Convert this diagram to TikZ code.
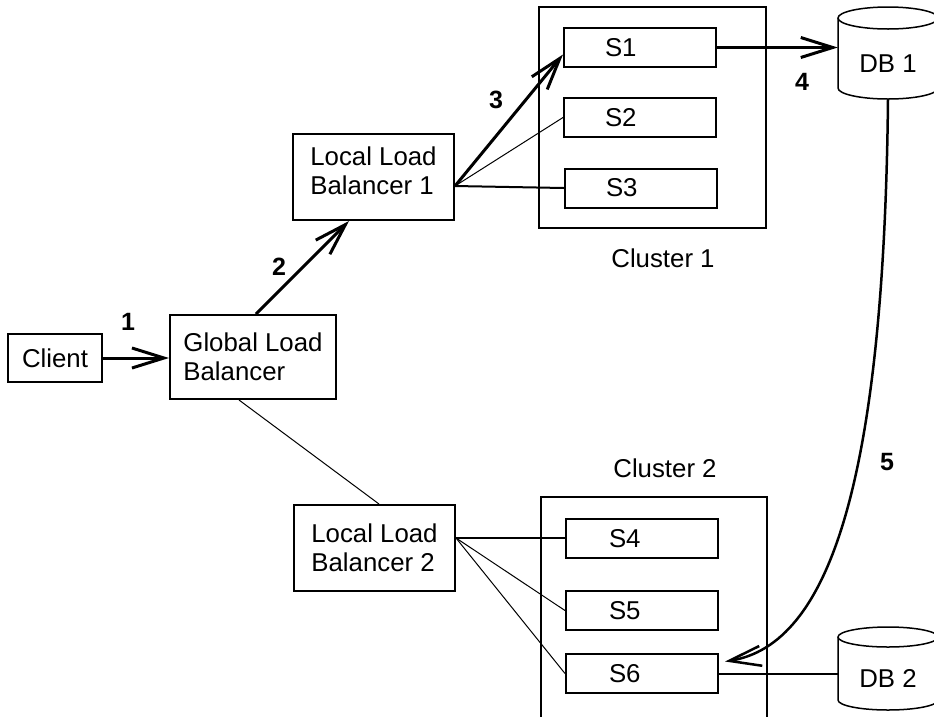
\documentclass[tikz,border=0pt]{standalone}
\usepackage{fontspec}
\setmainfont{Liberation Sans}
\usetikzlibrary{arrows.meta,calc}
\begin{document}
\begin{tikzpicture}[x=1pt,y=-1pt,
  box/.style={draw, line width=2pt, inner sep=0pt, font=\fontsize{25.8}{29}\selectfont, align=left},
  srv/.style={box, minimum width=152pt, minimum height=39pt},
  lbl/.style={font=\fontsize{25.8}{29}\selectfont},
  num/.style={font=\fontsize{25}{29}\selectfont\bfseries},
  barb/.style={-{Straight Barb[length=32pt,width=20pt]}},
  bold/.style={line width=3pt},
  mid/.style={line width=2pt},
  thin/.style={line width=1pt},
  dbline/.style={line width=1.5pt}]
\useasboundingbox (0,0) rectangle (934,716);
\clip (0,0) rectangle (934,716);
% boxes
\node[box, minimum width=94pt, minimum height=48pt] (client) at (55,358) {Client};
\node[box, minimum width=166pt, minimum height=84pt] (glb) at (253,357) {Global Load\\Balancer};
\node[box, minimum width=161pt, minimum height=86pt, align=center] (llb1) at (373.5,177) {\raisebox{28pt}{\begin{tabular}{@{}l@{}}Local Load\\[0pt]Balancer 1\end{tabular}}};
\node[box, minimum width=161pt, minimum height=86pt] (llb2) at (374.5,548) {Local Load\\Balancer 2};
\node[box, minimum width=227pt, minimum height=221pt] (c1) at (652.5,117.5) {};
\node[box, minimum width=226pt, minimum height=243pt] (c2) at (654,618.5) {};
\node[lbl] (c1l) at (663,258) {Cluster 1};
\node[lbl] (c2l) at (665,468) {Cluster 2};
% servers
\node[srv] (s1) at (640,47.5) {\makebox[70pt][l]{S1}};
\node[srv] (s2) at (640,117.5) {\makebox[70pt][l]{S2}};
\node[srv] (s3) at (641,188) {\makebox[70pt][l]{S3}};
\node[srv] (s4) at (642,538.5) {\makebox[66pt][l]{S4}};
\node[srv] (s5) at (642,610.5) {\makebox[66pt][l]{S5}};
\node[srv] (s6) at (642,673.5) {\makebox[66pt][l]{S6}};
% databases
\node[lbl, minimum width=100pt, minimum height=70pt, inner sep=0pt] (db1) at (888,64) {DB 1};
\draw[dbline] (888,18) ellipse [x radius=50pt, y radius=11pt];
\draw[dbline] (838,18) -- (838,88) arc[start angle=180, end angle=360, x radius=50pt, y radius=11pt] -- (938,18);
\node[lbl, minimum width=100pt, minimum height=63pt, inner sep=0pt] (db2) at (888,678.5) {DB 2};
\draw[dbline] (888,637) ellipse [x radius=50pt, y radius=10pt];
\draw[dbline] (838,637) -- (838,700) arc[start angle=180, end angle=360, x radius=50pt, y radius=10pt] -- (938,637);
% connectors
\draw[bold,barb] (client.east) -- (client.east -| glb.west);
\node[num] (n1) at (128,322) {1};
\draw[bold,barb] ($(glb.north west)+(87,0)$) -- ($(llb1.south west)+(57,0)$);
\node[num] (n2) at (279,267) {2};
\coordinate (l1o) at ($(llb1.east)+(0,9)$);
\draw[bold,barb] (l1o) -- ($(s1.west)+(0,7)$);
\draw[thin] (l1o) -- (s2.west);
\draw[mid] (l1o) -- (s3.west);
\node[num] (n3) at (496,100) {3};
\draw[bold,barb] (s1.east) -- (s1.east -| db1.west);
\node[num] (n4) at (802,82) {4};
\draw[thin] ($(glb.south west)+(70,0)$) -- ($(llb2.north west)+(86,0)$);
\coordinate (l2o) at ($(llb2.east)+(0,-10)$);
\draw[mid] (l2o) -- (l2o -| s4.west);
\draw[thin] (l2o) -- (s5.west);
\draw[thin] (l2o) -- (s6.west);
\draw[mid] (s6.east) -- (s6.east -| db2.west);
\draw[line width=2.5pt,barb] (db1.south) .. controls (884,480) and (830,645) .. ($(s6.east)+(6,-12)$);
\node[num] (n5) at (887,462) {5};
\end{tikzpicture}
\end{document}
